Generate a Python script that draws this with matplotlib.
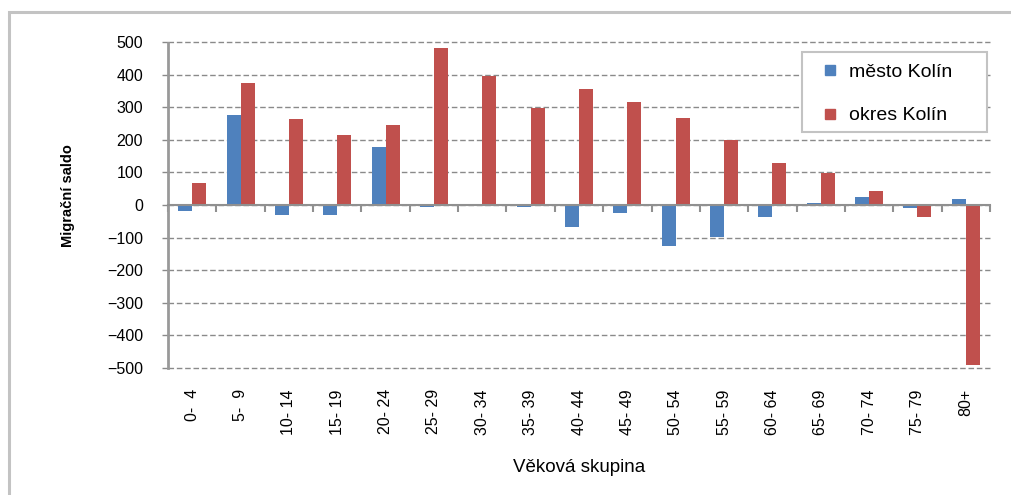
import numpy as np
import matplotlib.pyplot as plt
from matplotlib.patches import Rectangle
from matplotlib.lines import Line2D

plt.rcParams['font.family'] = ['Liberation Sans', 'DejaVu Sans']

# Data
skupiny = ['0-  4', '5-  9', '10- 14', '15- 19', '20- 24', '25- 29', '30- 34',
           '35- 39', '40- 44', '45- 49', '50- 54', '55- 59', '60- 64',
           '65- 69', '70- 74', '75- 79', '80+']
mesto_kolin = [-18, 275, -30, -30, 178, -6, 0, -5, -67, -24, -125, -99, -37,
               6, 25, -9, 18]
okres_kolin = [68, 373, 263, 214, 245, 481, 396, 299, 355, 315, 266, 199, 129,
               98, 43, -37, -492]
serie = ['město Kolín', 'okres Kolín']

BLUE = '#4F81BD'
RED = '#C0504D'
GRID = '#8a8a8a'
BORDER = '#c3c3c3'

W, H = 1012, 495
fig = plt.figure(figsize=(W / 100, H / 100), dpi=100)

# outer chart border (only top and left visible in the reference)
fig.add_artist(Rectangle((9 / W, -0.1), 1.2, (H - 12) / H + 0.1,
                         transform=fig.transFigure, fill=False,
                         edgecolor=BORDER, linewidth=2.2))

ax = fig.add_axes([168 / W, (H - 368) / H, 822 / W, 326 / H])

x = np.arange(len(skupiny))
bw = 0.29
ax.bar(x - bw / 2, mesto_kolin, bw, color=BLUE, zorder=3)
ax.bar(x + bw / 2, okres_kolin, bw, color=RED, zorder=3)

ax.set_xlim(-0.5, len(skupiny) - 0.5)
ax.set_ylim(-500, 500)
ax.set_yticks(np.arange(-500, 501, 100))
ax.yaxis.grid(True, color=GRID, linestyle=(0, (4, 2)), linewidth=1)
for gl in ax.get_ygridlines():
    gl.set_clip_on(False)
ax.set_axisbelow(True)

# spines
for s in ['top', 'right']:
    ax.spines[s].set_visible(False)
ax.spines['left'].set_color('#999999')
ax.spines['left'].set_linestyle((0, (1, 1)))
ax.spines['left'].set_linewidth(2)
ax.spines['bottom'].set_position(('data', 0))
ax.spines['bottom'].set_color('#909090')
ax.spines['bottom'].set_linewidth(1.5)
ax.spines['bottom'].set_zorder(4)

# x ticks at group boundaries, labels drawn separately below the plot
ax.set_xticks(np.arange(-0.5, len(skupiny), 1.0))
ax.tick_params(axis='x', direction='out', length=5, width=1.5,
               color='#909090', labelbottom=False)
ax.tick_params(axis='y', direction='out', length=4, width=1,
               color=GRID, pad=14, labelsize=11.5)

for xi, lab in zip(x, skupiny):
    ax.text(xi, -0.065, lab, transform=ax.get_xaxis_transform(),
            rotation=90, ha='center', va='top', fontsize=11.5)

fig.text(68 / W, (H - 196) / H, 'Migrační saldo', rotation=90,
         ha='center', va='center', fontsize=10.5, fontweight='bold')
fig.text(579 / W, (H - 468) / H, 'Věková skupina', ha='center',
         va='center', fontsize=13.5)

# legend box
fig.add_artist(Rectangle((802 / W, (H - 132) / H), 185 / W, 80 / H,
                         transform=fig.transFigure, facecolor='white',
                         edgecolor=BORDER, linewidth=1.5, zorder=5))
handles = [Line2D([], [], linestyle='none', marker='s', markersize=7.5,
                  color=c) for c in (BLUE, RED)]
leg = fig.legend(handles, serie, loc='upper left',
                 bbox_to_anchor=(822 / W, (H - 63) / H),
                 bbox_transform=fig.transFigure, fontsize=14,
                 frameon=False, borderpad=0, labelspacing=1.35,
                 handlelength=0.8, handletextpad=0.6, borderaxespad=0)
leg.set_zorder(6)

fig.savefig('out.png', dpi=100)
